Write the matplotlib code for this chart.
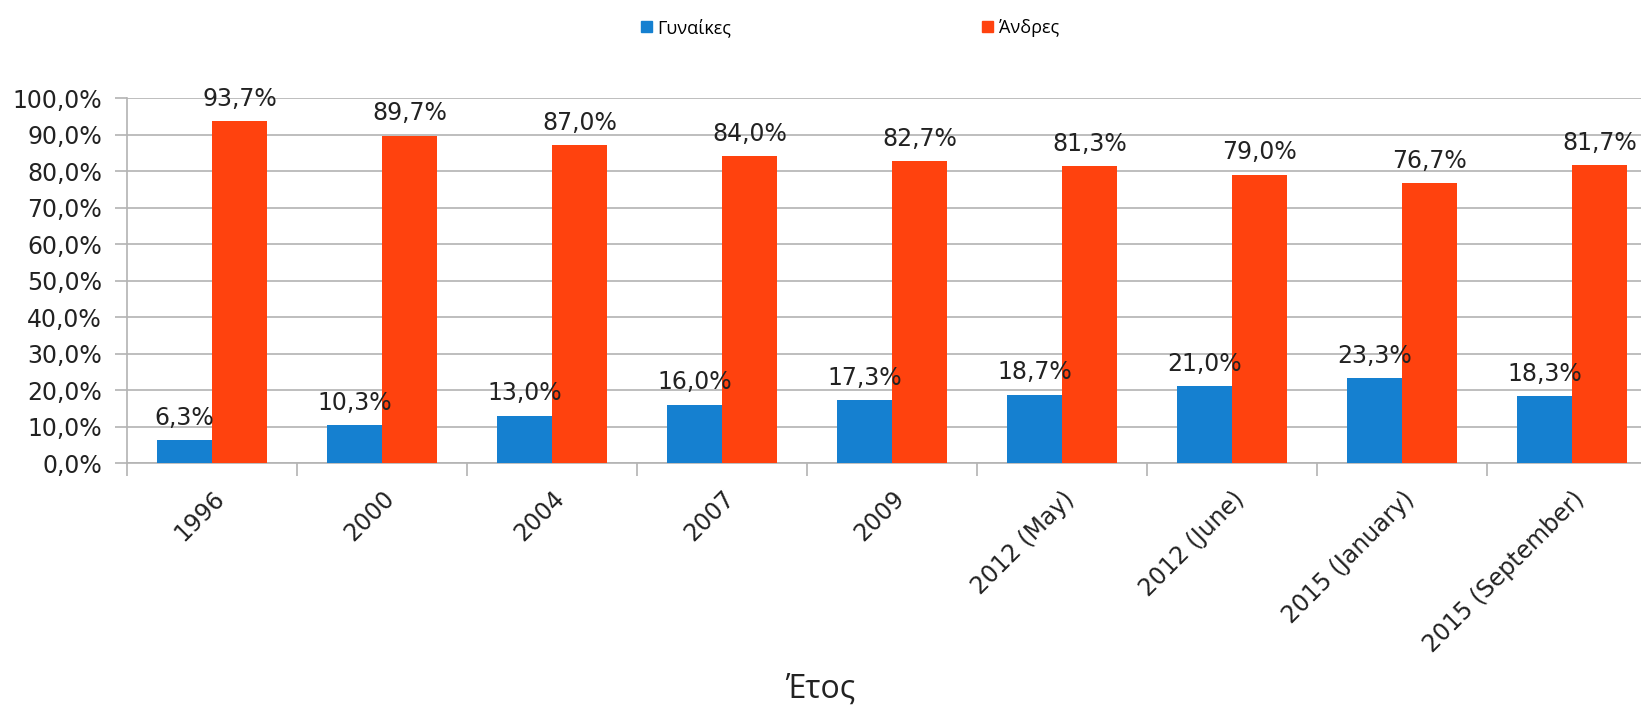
import matplotlib
matplotlib.use("Agg")
import matplotlib.pyplot as plt
from matplotlib.patches import Patch
from matplotlib.ticker import FuncFormatter, FixedLocator
import numpy as np

tick_font_size = 17
label_font_size = 17

matplotlib.rcParams['font.family'] = "DejaVu Sans"

# data
categories = ["1996", "2000", "2004", "2007", "2009", "2012 (May)",
              "2012 (June)", "2015 (January)", "2015 (September)"]
women = [6.3, 10.3, 13.0, 16.0, 17.3, 18.7, 21.0, 23.3, 18.3]
men = [93.7, 89.7, 87.0, 84.0, 82.7, 81.3, 79.0, 76.7, 81.7]
series_names = ["Γυναίκες", "Άνδρες"]
yticks = [0, 10, 20, 30, 40, 50, 60, 70, 80, 90, 100]

colorMap = ["#1580D0", "#FF420E"]
gridColor = "#b3b3b3"


def pct(v):
    return ("%.1f%%" % v).replace(".", ",")


fig = plt.figure(figsize=(16.41, 7.22), dpi=100)
ax = fig.add_axes([0.0774, 0.3587, 1.0098 - 0.0774, 0.5055])

x = np.arange(len(categories))
width = 0.325
barsW = ax.bar(x - width / 2, women, width, color=colorMap[0], zorder=3)
barsM = ax.bar(x + width / 2, men, width, color=colorMap[1], zorder=3)

for bars, vals in [(barsW, women), (barsM, men)]:
    for b, v in zip(bars, vals):
        ax.annotate(pct(v), (b.get_x() + b.get_width() / 2, v),
                    xytext=(0, 11), textcoords="offset points",
                    ha="center", va="baseline", fontsize=label_font_size,
                    color="#222222", zorder=4, annotation_clip=False)

ax.set_xlim(-0.5, len(categories) - 0.5)
ax.set_ylim(0, 100)
ax.set_yticks(yticks)
ax.yaxis.set_major_formatter(FuncFormatter(lambda v, p: pct(v)))
ax.yaxis.grid(True, color=gridColor, linewidth=1.2, zorder=0)
ax.tick_params(axis='y', direction='out', length=9, width=1.2, color=gridColor,
               pad=9, labelsize=tick_font_size, labelcolor="#222222")

ax.set_xticks(x)
ax.set_xticklabels(categories)
ax.xaxis.set_minor_locator(FixedLocator(np.arange(len(categories) + 1) - 0.5))
ax.tick_params(axis='x', which='major', length=0, pad=17,
               labelsize=tick_font_size, labelcolor="#222222")
ax.tick_params(axis='x', which='minor', direction='out', length=9, width=1.2,
               color=gridColor)
for lbl in ax.get_xticklabels():
    lbl.set_rotation(45)
    lbl.set_ha("right")
    lbl.set_va("top")
    lbl.set_rotation_mode("anchor")

for s in ["top", "right"]:
    ax.spines[s].set_visible(False)
ax.spines["left"].set_color(gridColor)
ax.spines["left"].set_linewidth(1.2)
ax.spines["bottom"].set_color(gridColor)
ax.spines["bottom"].set_linewidth(1.2)

fig.text(0.5, 0.045, "Έτος", ha="center", va="center", fontsize=23,
         family="Open Sans", color="#222222")

handles = [Patch(color=colorMap[0]), Patch(color=colorMap[1])]
fig.legend(handles, series_names, loc="center", bbox_to_anchor=(0.518, 0.962),
           ncol=2, frameon=False, prop={'family': 'Open Sans', 'size': 13},
           handlelength=0.6, handleheight=0.6, handletextpad=0.3,
           columnspacing=13.9)

fig.savefig("out.png", dpi=100)
plt.close()
